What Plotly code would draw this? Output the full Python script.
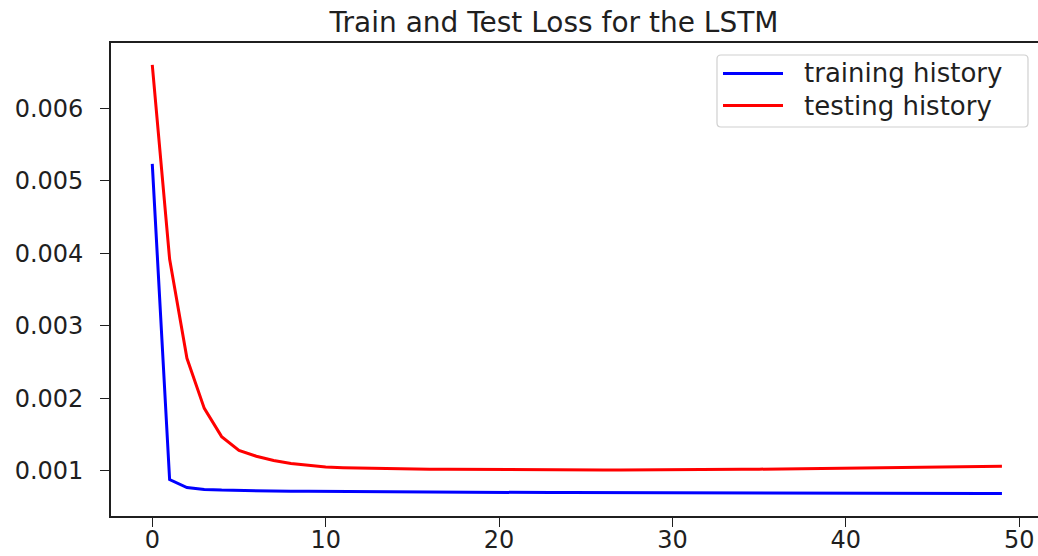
import plotly.graph_objects as go

# Loss history per epoch
epochs = list(range(50))

train_loss = [
    0.005234, 0.000877, 0.000767, 0.000742, 0.000732, 0.000726, 0.000722, 0.000719, 0.000717, 0.000715,
    0.000713, 0.000711, 0.000709, 0.000708, 0.000707, 0.000705, 0.000704, 0.000703, 0.000702, 0.000701,
    0.000700, 0.000699, 0.000699, 0.000698, 0.000698, 0.000697, 0.000697, 0.000696, 0.000696, 0.000695,
    0.000694, 0.000694, 0.000693, 0.000693, 0.000692, 0.000692, 0.000691, 0.000691, 0.000690, 0.000690,
    0.000689, 0.000689, 0.000688, 0.000688, 0.000687, 0.000687, 0.000686, 0.000686, 0.000685, 0.000685,
]

test_loss = [
    0.006600, 0.003920, 0.002550, 0.001860, 0.001470, 0.001280, 0.001200, 0.001140, 0.001100, 0.001070,
    0.001050, 0.001042, 0.001036, 0.001031, 0.001027, 0.001024, 0.001021, 0.001019, 0.001017, 0.001015,
    0.001014, 0.001013, 0.001012, 0.001011, 0.001011, 0.001010, 0.001010, 0.001010, 0.001010, 0.001011,
    0.001012, 0.001013, 0.001015, 0.001017, 0.001019, 0.001021, 0.001023, 0.001025, 0.001027, 0.001030,
    0.001033, 0.001035, 0.001038, 0.001041, 0.001044, 0.001047, 0.001050, 0.001053, 0.001056, 0.001060,
]

series_names = ["training history", "testing history"]
series_colors = ["#0000ff", "#ff0000"]

x_ticks = [0, 10, 20, 30, 40, 50]
y_ticks = [0.001, 0.002, 0.003, 0.004, 0.005, 0.006]

title_text = "Train and Test Loss for the LSTM"

W, H = 1038, 556
ML, MT, MB, MR = 111, 43, 40, 0
PW, PH = W - ML - MR, H - MT - MB

FONT = "DejaVu Sans"
INK = "#1f1f1f"


def px(x):
    return (x - ML) / PW


def py(y):
    return (H - MB - y) / PH


fig = go.Figure()
for ys, name, color in zip([train_loss, test_loss], series_names, series_colors):
    fig.add_trace(go.Scatter(
        x=epochs, y=ys, mode="lines", name=name,
        line=dict(color=color, width=3),
        showlegend=False,
    ))

# legend frame with rounded corners
x0, x1, y0, y1, r = px(717), px(1028), py(127), py(55), 4
rx, ry = r / PW, r / PH
path = (
    f"M {x0+rx},{y0} L {x1-rx},{y0} Q {x1},{y0} {x1},{y0+ry} "
    f"L {x1},{y1-ry} Q {x1},{y1} {x1-rx},{y1} "
    f"L {x0+rx},{y1} Q {x0},{y1} {x0},{y1-ry} "
    f"L {x0},{y0+ry} Q {x0},{y0} {x0+rx},{y0} Z"
)
shapes = [dict(type="path", xref="paper", yref="paper", path=path,
               line=dict(color="#d0d0d0", width=1.2), fillcolor="rgba(255,255,255,0.8)", layer="above")]
annotations = []
for name, color, yc in zip(series_names, series_colors, [73.5, 105.5]):
    shapes.append(dict(type="line", xref="paper", yref="paper",
                       x0=px(723), x1=px(783), y0=py(yc), y1=py(yc),
                       line=dict(color=color, width=3), layer="above"))
    annotations.append(dict(xref="paper", yref="paper", x=px(802), y=py(yc),
                            xanchor="left", yanchor="middle", showarrow=False,
                            text=name, font=dict(family=FONT, size=26, color=INK)))

fig.update_layout(
    width=W, height=H,
    margin=dict(l=ML, r=MR, t=MT, b=MB, pad=0, autoexpand=False),
    paper_bgcolor="white", plot_bgcolor="white",
    title=dict(text=title_text, x=554 / W, xanchor="center", xref="container",
               y=1 - 22.5 / H, yanchor="middle", yref="container",
               font=dict(family=FONT, size=28, color=INK)),
    shapes=shapes, annotations=annotations,
    showlegend=False,
)
fig.update_xaxes(
    range=[-2.38, 51.08], tickvals=x_ticks, ticktext=[str(v) for v in x_ticks],
    showgrid=False, zeroline=False, showline=True, mirror=True, automargin=False,
    linecolor=INK, linewidth=1.6, ticks="outside", ticklen=9, tickwidth=1.4, tickcolor=INK,
    tickfont=dict(family=FONT, size=24, color=INK), ticklabelstandoff=-8,
)
fig.update_yaxes(
    range=[0.000375, 0.006901], tickvals=y_ticks, ticktext=[f"{v:.3f}" for v in y_ticks],
    showgrid=False, zeroline=False, showline=True, mirror=False, automargin=False,
    linecolor=INK, linewidth=1.6, ticks="outside", ticklen=9, tickwidth=1.4, tickcolor=INK,
    tickfont=dict(family=FONT, size=24, color=INK), ticklabelstandoff=12,
)

fig.write_html("out.html")
